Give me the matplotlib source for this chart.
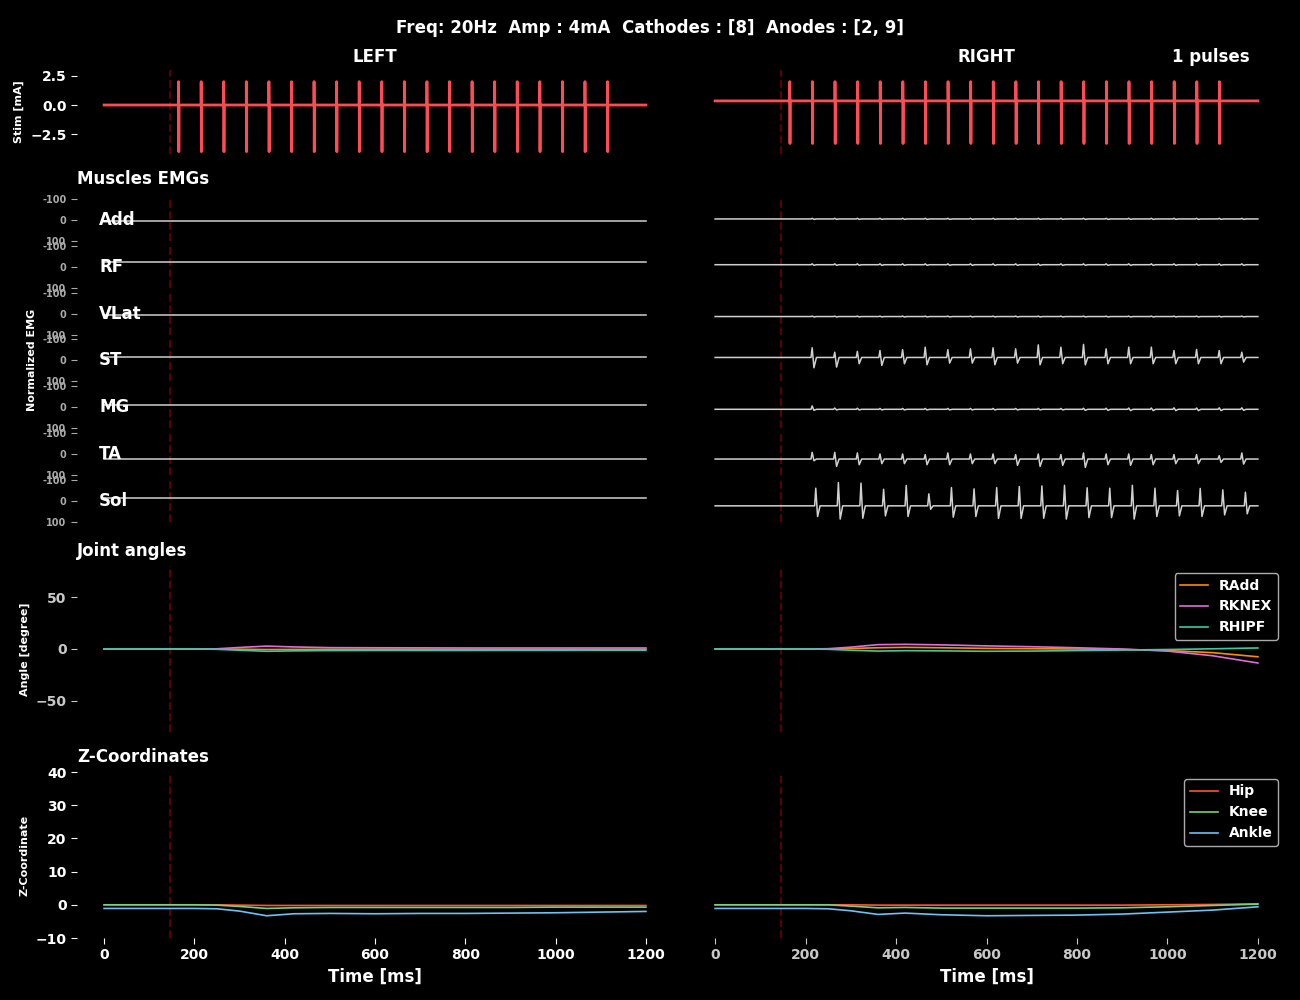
import numpy as np
import matplotlib.pyplot as plt

W, H = 1300, 1000

# stimulation: 20 Hz pulse train
pulse_times = [165, 215, 265, 315, 365, 415, 465, 515, 565, 615,
               665, 715, 765, 815, 865, 915, 965, 1015, 1065, 1115]
stim_left = {'base': 0.0, 'pos': 2.0, 'neg': -4.0}
stim_right = {'base': 0.35, 'pos': 2.0, 'neg': -3.3}
stim_onset = 145

muscles = ['Add', 'RF', 'VLat', 'ST', 'MG', 'TA', 'Sol']
emg_offset_left = [5, -24, 5, -14, -10, 24, -14]
emg_offset_right = [-5, -10, 14, -14, 10, 24, 24]
emg_latency_right = [47, 47, 47, 47, 47, 47, 55]

# response peaks (up / down) per pulse, right side
emg_up_right = {
    'Add': [3] * 20,
    'RF': [4] * 20,
    'VLat': [2] * 20,
    'ST': [46, 25, 29, 33, 37, 49, 37, 41, 46, 41, 60, 49, 62, 41, 49, 49, 33, 38, 33, 25],
    'MG': [16, 6, 5, 4, 4, 4, 4, 4, 4, 4, 4, 4, 5, 5, 6, 6, 7, 6, 7, 7],
    'TA': [32, 32, 29, 24, 24, 21, 29, 24, 24, 21, 24, 21, 29, 24, 24, 21, 21, 21, 16, 29],
    'Sol': [84, 111, 108, 79, 97, 57, 87, 81, 87, 92, 95, 98, 86, 84, 98, 84, 73, 83, 76, 65],
}
emg_down_right = {
    'Add': [2] * 20,
    'RF': [3] * 20,
    'VLat': [2] * 20,
    'ST': [49, 46, 30, 38, 30, 35, 27, 27, 35, 27, 35, 30, 35, 30, 30, 30, 30, 30, 30, 22],
    'MG': [5, 3, 3, 3, 3, 3, 3, 3, 3, 3, 3, 3, 5, 5, 6, 6, 6, 6, 6, 5],
    'TA': [8, 35, 27, 22, 22, 27, 27, 22, 22, 30, 35, 30, 40, 27, 30, 27, 22, 22, 16, 24],
    'Sol': [51, 63, 59, 48, 51, 16, 54, 51, 60, 60, 59, 63, 56, 56, 63, 51, 48, 51, 43, 38],
}
spike_dt = [0, 2.5, 6.5, 12.0]

# kinematics
t_kin = [0, 100, 200, 250, 300, 360, 420, 500, 600, 700, 800, 900, 1000, 1100, 1200]
angle_names = ['RAdd', 'RKNEX', 'RHIPF']
angle_colors = ['#ff8c00', '#da70d6', '#3fc8a0']
angles_left = [
    [0, 0, 0, 0, -0.2, -0.5, -0.4, -0.3, -0.2, -0.2, -0.2, -0.2, -0.2, -0.2, -0.2],
    [0, 0, 0, 0.2, 1.5, 2.8, 2.0, 1.3, 1.2, 1.1, 1.0, 1.0, 1.0, 1.0, 1.0],
    [0, 0, 0, -0.3, -1.2, -2.2, -1.8, -1.5, -1.4, -1.4, -1.4, -1.3, -1.3, -1.2, -1.2],
]
angles_right = [
    [0, 0, 0, 0, 0.5, 1.2, 1.6, 1.2, 0.6, 0.3, 0, -0.5, -1.5, -3.5, -7.5],
    [0, 0, 0, 0.3, 1.8, 4.2, 4.5, 4.0, 3.0, 2.2, 1.2, 0, -2, -6.5, -13.5],
    [0, 0, 0, -0.3, -1.2, -2.0, -1.6, -1.8, -2.2, -2.0, -1.5, -1, -0.5, 0.2, 1.0],
]
z_names = ['Hip', 'Knee', 'Ankle']
z_colors = ['#ff5533', '#7ccd7c', '#6ec1f0']
z_left = [
    [0, 0, 0, 0, -0.1, -0.2, -0.2, -0.2, -0.2, -0.2, -0.2, -0.2, -0.2, -0.2, -0.2],
    [0, 0, 0, -0.1, -0.5, -1.1, -0.9, -0.8, -0.8, -0.8, -0.8, -0.8, -0.7, -0.7, -0.7],
    [-1.1, -1.1, -1.1, -1.2, -1.9, -3.3, -2.7, -2.6, -2.7, -2.6, -2.6, -2.5, -2.4, -2.2, -2.0],
]
z_right = [
    [0, 0, 0, 0, 0, -0.1, -0.1, -0.1, -0.1, -0.1, -0.1, -0.1, 0, 0.1, 0.3],
    [0, 0, 0, 0, -0.4, -0.9, -0.8, -1.0, -1.0, -1.0, -1.0, -0.9, -0.6, -0.2, 0.2],
    [-1.1, -1.1, -1.1, -1.2, -1.8, -2.9, -2.5, -3.0, -3.3, -3.2, -3.1, -2.8, -2.2, -1.6, -0.6],
]


def add_ax(fig, x0, y0, x1, y1):
    ax = fig.add_axes([x0 / W, 1 - y1 / H, (x1 - x0) / W, (y1 - y0) / H])
    ax.set_facecolor('black')
    for s in ax.spines.values():
        s.set_visible(False)
    ax.set_xlim(-60, 1260)
    ax.set_xticks([])
    ax.axvline(stim_onset, color='#5a0000', lw=1.5, ls='--', zorder=0)
    return ax


def stim_series(p):
    t, v = [0], [p['base']]
    for t0 in pulse_times:
        t += [t0, t0, t0 + 0.5, t0 + 1.0]
        v += [p['base'], p['pos'], p['neg'], p['base']]
    t.append(1200)
    v.append(p['base'])
    return t, v


def emg_series(offset, onsets=(), ups=(), downs=()):
    t, v = [0], [offset]
    for t0, u, d in zip(onsets, ups, downs):
        for dt, val in zip(spike_dt, [0, -u, d, 0]):
            t.append(t0 + dt)
            v.append(offset + val)
    t.append(1200)
    v.append(offset)
    return t, v


plt.rcParams['font.family'] = 'DejaVu Sans'
plt.rcParams['font.weight'] = 'bold'
fig = plt.figure(figsize=(13, 10), dpi=100, facecolor='black')

cols = [(77, 673), (688, 1285)]

fig.text(0.5, 1 - 28 / H, 'Freq: 20Hz  Amp : 4mA  Cathodes : [8]  Anodes : [2, 9]',
         ha='center', va='center', fontsize=12, weight='bold', color='white')
fig.text(375 / W, 1 - 57 / H, 'LEFT', ha='center', va='center', fontsize=12, weight='bold', color='white')
fig.text(986 / W, 1 - 57 / H, 'RIGHT', ha='center', va='center', fontsize=12, weight='bold', color='white')
fig.text(1211 / W, 1 - 57 / H, '1 pulses', ha='center', va='center', fontsize=12, weight='bold', color='white')
for txt, y in [('Muscles EMGs', 179), ('Joint angles', 551), ('Z-Coordinates', 757)]:
    fig.text(77 / W, 1 - y / H, txt, ha='left', va='center', fontsize=12, weight='bold', color='white')
for txt, x, y in [('Stim [mA]', 19, 112), ('Normalized EMG', 32, 360),
                  ('Angle [degree]', 25, 649), ('Z-Coordinate', 25, 855)]:
    fig.text(x / W, 1 - y / H, txt, ha='center', va='center', rotation=90,
             fontsize=8, weight='bold', color='white')

for side, (x0, x1) in enumerate(cols):
    left = side == 0

    # stimulation
    ax = add_ax(fig, x0, 70, x1, 154)
    st, sv = stim_series(stim_left if left else stim_right)
    ax.plot(st, sv, color='#ff4b55', lw=2.0)
    ax.set_ylim(-4.2, 3.0)
    if left:
        ax.set_yticks([-2.5, 0, 2.5])
        ax.tick_params(axis='y', colors='white', labelsize=10, length=4)
    else:
        ax.set_yticks([])

    # EMGs
    for i, m in enumerate(muscles):
        top = 199 + 46.8 * i
        ax = add_ax(fig, x0, top, x1, top + 42)
        if left:
            et, ev = emg_series(emg_offset_left[i])
        else:
            onsets = [p + emg_latency_right[i] for p in pulse_times]
            et, ev = emg_series(emg_offset_right[i], onsets,
                                emg_up_right[m], emg_down_right[m])
        ax.plot(et, ev, color='#d0d0d0', lw=1.1)
        ax.set_ylim(100, -100)
        if left:
            ax.set_yticks([-100, 0, 100])
            ax.set_yticklabels(['-100', '0', '100'])
            ax.tick_params(axis='y', colors='#aaaaaa', labelsize=7, length=4)
            ax.text(-11, 0, m, ha='left', va='center', fontsize=12,
                    weight='bold', color='white')
        else:
            ax.set_yticks([])

    # joint angles
    ax = add_ax(fig, x0, 566, x1, 732)
    for name, c, vals in zip(angle_names, angle_colors, angles_left if left else angles_right):
        ax.plot(t_kin, vals, color=c, lw=1.2, label=name)
    ax.set_ylim(-80, 80)
    if left:
        ax.set_yticks([-50, 0, 50])
        ax.tick_params(axis='y', colors='#c8c8c8', labelsize=10, length=4)
    else:
        ax.set_yticks([])
        leg = ax.legend(loc='upper right', facecolor='black', edgecolor='#aaaaaa',
                        labelcolor='white', prop={'weight': 'bold', 'size': 10})
        leg.get_frame().set_alpha(1)

    # z coordinates
    ax = add_ax(fig, x0, 772, x1, 938)
    for name, c, vals in zip(z_names, z_colors, z_left if left else z_right):
        ax.plot(t_kin, vals, color=c, lw=1.2, label=name)
    ax.set_ylim(-10, 40)
    ax.set_xticks([0, 200, 400, 600, 800, 1000, 1200])
    xcol = 'white' if left else '#c8c8c8'
    ax.tick_params(axis='x', colors=xcol, labelsize=10, length=4)
    ax.set_xlabel('Time [ms]', color='white', fontsize=12, weight='bold', labelpad=4)
    if left:
        ax.set_yticks([-10, 0, 10, 20, 30, 40])
        ax.tick_params(axis='y', colors='white', labelsize=10, length=4)
    else:
        ax.set_yticks([])
        leg = ax.legend(loc='upper right', facecolor='black', edgecolor='#aaaaaa',
                        labelcolor='white', prop={'weight': 'bold', 'size': 10})
        leg.get_frame().set_alpha(1)

fig.savefig('out.png', dpi=100, facecolor='black')
